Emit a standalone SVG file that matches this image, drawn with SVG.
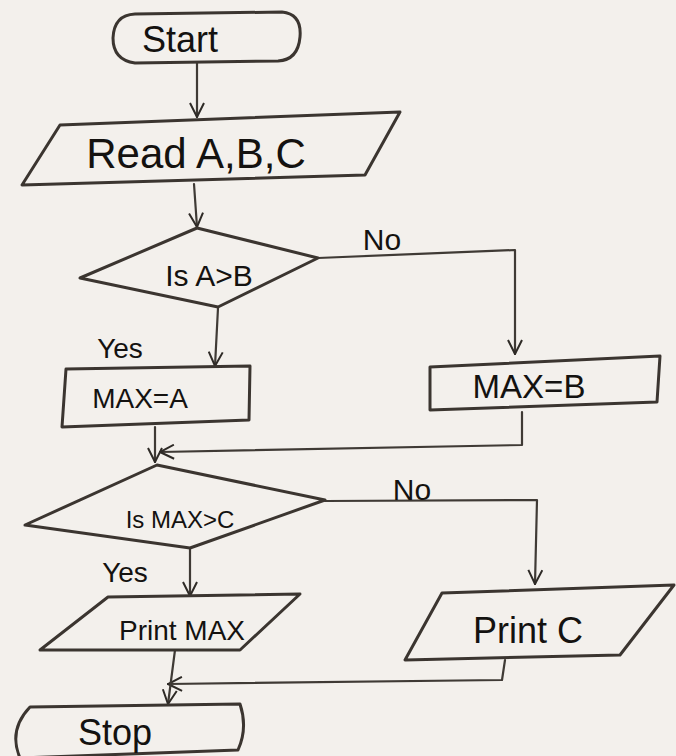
<svg xmlns="http://www.w3.org/2000/svg" width="676" height="756" viewBox="0 0 676 756">
  <style>
    .shape { fill: none; stroke: #3b3530; stroke-width: 3; stroke-linejoin: round; stroke-linecap: round; }
    .wire { fill: none; stroke: #3f3a35; stroke-width: 2.2; stroke-linecap: round; stroke-linejoin: round; }
    .lbl { font-family: "Liberation Sans", "DejaVu Sans", sans-serif; fill: #141210; }
  </style>
  <defs>
    <marker id="arrow" viewBox="0 0 16 16" refX="15" refY="8" markerWidth="16" markerHeight="16" markerUnits="userSpaceOnUse" orient="auto">
      <path d="M1,1 L15,8 L1,15" fill="none" stroke="#2e2a26" stroke-width="2"/>
    </marker>
  </defs>

  <rect width="676" height="756" fill="#f3f0ec"/>

  <!-- connectors -->
  <g id="connectors">
    <path class="wire" d="M197,63 L197,117" marker-end="url(#arrow)"/>
    <path class="wire" d="M194,184 L197,227" marker-end="url(#arrow)"/>
    <path class="wire" d="M318,258 L515,250 L515,354" marker-end="url(#arrow)"/>
    <path class="wire" d="M218,308 L215,366" marker-end="url(#arrow)"/>
    <path class="wire" d="M155,427 L155,462" marker-end="url(#arrow)"/>
    <path class="wire" d="M522,412 L522,445 L160,452" marker-end="url(#arrow)"/>
    <path class="wire" d="M325,501 L537,500 L535,584" marker-end="url(#arrow)"/>
    <path class="wire" d="M190,548 L190,596" marker-end="url(#arrow)"/>
    <path class="wire" d="M505,660 L502,680 L168,684" marker-end="url(#arrow)"/>
    <path class="wire" d="M175,650 L168,704" marker-end="url(#arrow)"/>
  </g>

  <!-- start terminator -->
  <g id="start">
    <path class="shape" d="M135,14 L282,12 Q302,14 300,37 Q298,60 278,61 L135,63 Q113,60 113,38 Q114,15 135,14 Z"/>
    <text class="lbl" x="180" y="52" font-size="36" text-anchor="middle">Start</text>
  </g>

  <!-- input -->
  <g id="read">
    <path class="shape" d="M60,125 L400,112 L365,175 L22,185 Z"/>
    <text class="lbl" x="196" y="168" font-size="42" text-anchor="middle">Read A,B,C</text>
  </g>

  <!-- first decision -->
  <g id="decision1">
    <path class="shape" d="M197,228 L318,258 L218,307 L80,278 Z"/>
    <text class="lbl" x="209" y="286" font-size="30" text-anchor="middle">Is A&gt;B</text>
    <text class="lbl" x="382" y="250" font-size="30" text-anchor="middle">No</text>
    <text class="lbl" x="120" y="358" font-size="28" text-anchor="middle">Yes</text>
  </g>

  <!-- assignments -->
  <g id="max-a">
    <path class="shape" d="M66,369 L250,366 L249,420 L62,427 Z"/>
    <text class="lbl" x="140" y="408" font-size="28" text-anchor="middle">MAX=A</text>
  </g>
  <g id="max-b">
    <path class="shape" d="M430,367 L660,356 L657,402 L430,410 Z"/>
    <text class="lbl" x="529" y="398" font-size="33" text-anchor="middle">MAX=B</text>
  </g>

  <!-- second decision -->
  <g id="decision2">
    <path class="shape" d="M157,465 L325,500 L190,548 L25,525 Z"/>
    <text class="lbl" x="180" y="528" font-size="24" text-anchor="middle">Is MAX&gt;C</text>
    <text class="lbl" x="412" y="500" font-size="30" text-anchor="middle">No</text>
    <text class="lbl" x="125" y="582" font-size="28" text-anchor="middle">Yes</text>
  </g>

  <!-- outputs -->
  <g id="print-max">
    <path class="shape" d="M108,597 L300,594 L240,650 L40,650 Z"/>
    <text class="lbl" x="182" y="640" font-size="28" text-anchor="middle">Print MAX</text>
  </g>
  <g id="print-c">
    <path class="shape" d="M442,593 L674,585 L620,655 L405,660 Z"/>
    <text class="lbl" x="528" y="643" font-size="36" text-anchor="middle">Print C</text>
  </g>

  <!-- stop terminator -->
  <g id="stop">
    <path class="shape" d="M30,707 L240,704 Q248,728 238,750 L20,758 Q8,730 30,707 Z"/>
    <text class="lbl" x="115" y="745" font-size="36" text-anchor="middle">Stop</text>
  </g>
</svg>
